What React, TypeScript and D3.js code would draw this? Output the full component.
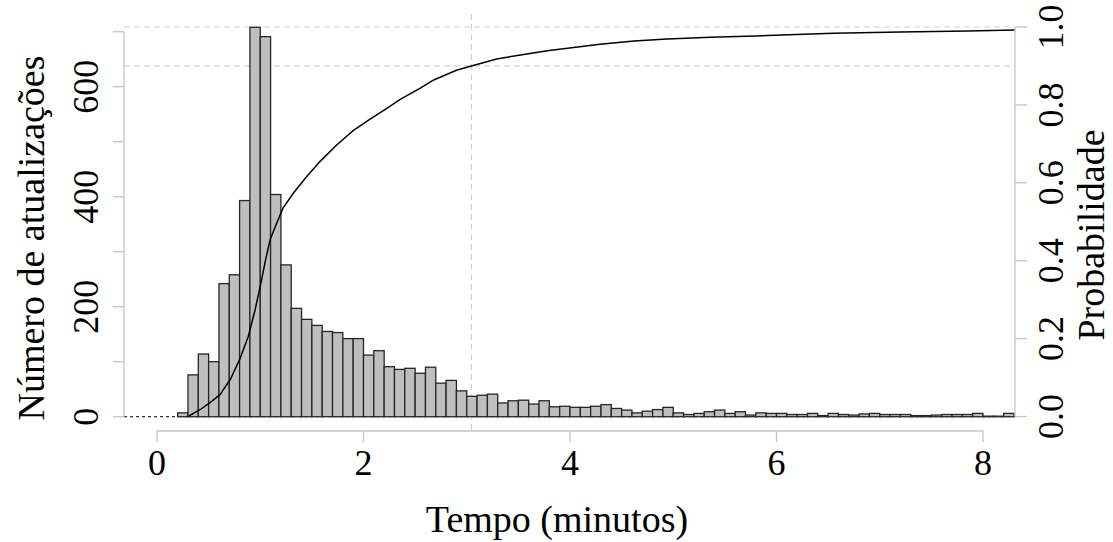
import React from "react";
import * as d3 from "d3";

// histogram: left edge of each 0.1 min bin and count
const binStarts = [
  0.2, 0.3, 0.4, 0.5, 0.6, 0.7, 0.8, 0.9, 1.0, 1.1, 1.2, 1.3, 1.4, 1.5, 1.6, 1.7, 1.8, 1.9, 2.0, 2.1,
  2.2, 2.3, 2.4, 2.5, 2.6, 2.7, 2.8, 2.9, 3.0, 3.1, 3.2, 3.3, 3.4, 3.5, 3.6, 3.7, 3.8, 3.9, 4.0, 4.1,
  4.2, 4.3, 4.4, 4.5, 4.6, 4.7, 4.8, 4.9, 5.0, 5.1, 5.2, 5.3, 5.4, 5.5, 5.6, 5.7, 5.8, 5.9, 6.0, 6.1,
  6.2, 6.3, 6.4, 6.5, 6.6, 6.7, 6.8, 6.9, 7.0, 7.1, 7.2, 7.3, 7.4, 7.5, 7.6, 7.7, 7.8, 7.9, 8.0, 8.1, 8.2,
];
const counts = [
  7, 76, 114, 100, 242, 258, 393, 708, 691, 404, 276, 197, 177, 166, 155, 153, 142, 142, 112, 120,
  91, 86, 88, 79, 90, 61, 66, 47, 37, 39, 41, 25, 29, 30, 23, 29, 18, 19, 17, 17,
  19, 22, 15, 12, 7, 10, 13, 17, 7, 4, 6, 9, 12, 6, 9, 3, 7, 6, 6, 4,
  4, 6, 2, 6, 4, 3, 5, 6, 4, 4, 4, 2, 2, 3, 4, 4, 4, 6, 1, 1, 6,
];
const binWidth = 0.1;

// cumulative distribution curve
const cdfTime = [
  0.3, 0.42, 0.51, 0.61, 0.71, 0.8, 0.885, 0.95, 1.0, 1.05, 1.095, 1.16, 1.22, 1.32, 1.45, 1.58,
  1.74, 1.9, 2.06, 2.23, 2.355, 2.55, 2.68, 2.9, 3.045, 3.29, 3.78, 4.29, 4.62, 4.94, 5.36, 5.91,
  6.55, 7.2, 7.85, 8.31,
];
const cdfProb = [
  0, 0.018, 0.035, 0.056, 0.095, 0.146, 0.206, 0.274, 0.334, 0.4, 0.454, 0.497, 0.535, 0.573, 0.616, 0.655,
  0.697, 0.734, 0.763, 0.792, 0.814, 0.843, 0.864, 0.889, 0.9, 0.918, 0.939, 0.956, 0.964, 0.969, 0.974, 0.978,
  0.984, 0.987, 0.99, 0.992,
];

const xTicks = [0, 2, 4, 6, 8];
const countTicks = [0, 100, 200, 300, 400, 500, 600, 700];
const countLabels = [0, 200, 400, 600];
const probTicks = [0, 0.2, 0.4, 0.6, 0.8, 1.0];
const refProbs = [0.9, 1.0];
const refTime = 3.045;

const W = 1113;
const H = 542;
const font = "'Liberation Serif', 'Times New Roman', serif";
const axisColor = "#c4c4c4";
const guideColor = "#d2d2d2";

export default function App() {
  const plot = { left: 124, right: 1015, top: 14, bottom: 431 };
  const x = d3.scaleLinear().domain([0, 8]).range([157, 983]);
  const yCount = d3.scaleLinear().domain([0, 700]).range([416.7, 31.7]);
  const yProb = d3.scaleLinear().domain([0, 1]).range([416.5, 27]);

  const line = d3
    .line<number>()
    .x((_, i) => x(cdfTime[i]))
    .y((d) => yProb(d));

  return (
    <svg width={W} height={H} style={{ position: "absolute", left: 0, top: 0, background: "#fff" }}>
      <defs>
        <clipPath id="plot">
          <rect x={plot.left} y={plot.top} width={plot.right - plot.left} height={plot.bottom - plot.top} />
        </clipPath>
      </defs>

      {/* guide lines */}
      {refProbs.map((p) => (
        <line
          key={p}
          x1={plot.left}
          x2={plot.right}
          y1={yProb(p)}
          y2={yProb(p)}
          stroke={guideColor}
          strokeWidth={1.2}
          strokeDasharray="6,4"
        />
      ))}
      <line
        x1={x(refTime)}
        x2={x(refTime)}
        y1={plot.top}
        y2={plot.bottom}
        stroke={guideColor}
        strokeWidth={1.2}
        strokeDasharray="6,4"
      />

      {/* histogram */}
      <g clipPath="url(#plot)">
        {counts.map((c, i) => (
          <rect
            key={i}
            x={x(binStarts[i])}
            y={yCount(c)}
            width={x(binStarts[i] + binWidth) - x(binStarts[i])}
            height={yCount(0) - yCount(c)}
            fill="#bebebe"
            stroke="#262626"
            strokeWidth={1.3}
          />
        ))}
        <line
          x1={plot.left}
          x2={plot.right}
          y1={yCount(0)}
          y2={yCount(0)}
          stroke="#333"
          strokeWidth={1.3}
          strokeDasharray="3,3"
        />
        <path d={line(cdfProb) || ""} fill="none" stroke="#000" strokeWidth={1.5} />
      </g>

      {/* bottom axis */}
      <g fontFamily={font} fontSize={36} fill="#000">
        <line x1={x(0)} x2={x(8)} y1={plot.bottom} y2={plot.bottom} stroke={axisColor} strokeWidth={1.3} />
        {xTicks.map((t) => (
          <g key={t}>
            <line x1={x(t)} x2={x(t)} y1={plot.bottom} y2={plot.bottom + 11} stroke={axisColor} strokeWidth={1.3} />
            <text x={x(t)} y={475} textAnchor="middle">
              {t}
            </text>
          </g>
        ))}
        <text x={557} y={532} textAnchor="middle" fontSize={38}>
          Tempo (minutos)
        </text>
      </g>

      {/* left axis */}
      <g fontFamily={font} fontSize={36} fill="#000">
        <line x1={plot.left} x2={plot.left} y1={yCount(700)} y2={yCount(0)} stroke={axisColor} strokeWidth={1.3} />
        {countTicks.map((t) => (
          <line key={t} x1={plot.left - 11} x2={plot.left} y1={yCount(t)} y2={yCount(t)} stroke={axisColor} strokeWidth={1.3} />
        ))}
        {countLabels.map((t) => (
          <text key={t} transform={`translate(98,${yCount(t)}) rotate(-90)`} textAnchor="middle">
            {t}
          </text>
        ))}
        <text transform="translate(44,238) rotate(-90)" textAnchor="middle" fontSize={38}>
          Número de atualizações
        </text>
      </g>

      {/* right axis */}
      <g fontFamily={font} fontSize={36} fill="#000">
        <line x1={plot.right} x2={plot.right} y1={yProb(1)} y2={yProb(0)} stroke={axisColor} strokeWidth={1.3} />
        {probTicks.map((t) => (
          <g key={t}>
            <line x1={plot.right} x2={plot.right + 12} y1={yProb(t)} y2={yProb(t)} stroke={axisColor} strokeWidth={1.3} />
            <text transform={`translate(1063,${yProb(t)}) rotate(-90)`} textAnchor="middle">
              {t.toFixed(1)}
            </text>
          </g>
        ))}
        <text transform="translate(1104,235) rotate(-90)" textAnchor="middle" fontSize={38}>
          Probabilidade
        </text>
      </g>
    </svg>
  );
}
